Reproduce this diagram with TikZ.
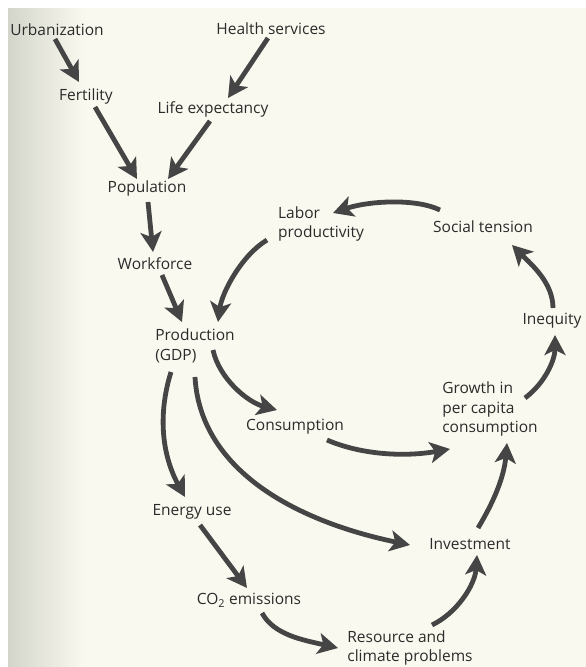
\documentclass[tikz,border=0pt]{standalone}
\usepackage{fontspec}
\setmainfont{Open Sans}
\usetikzlibrary{arrows.meta,calc}
\definecolor{paper}{HTML}{FAF9EF}
\definecolor{shadow}{HTML}{D3D5CB}
\definecolor{ink}{HTML}{2B2B2B}
\definecolor{arrowgrey}{HTML}{454545}
\tikzset{
  lbl/.style={text=ink, font=\fontsize{15.5}{19.5}\selectfont, inner sep=0pt, align=left},
  arr/.style={draw=arrowgrey, line width=4.8pt,
    -{Stealth[length=20pt,width=21pt,inset=5pt]}}
}
\begin{document}
\begin{tikzpicture}[x=1pt,y=-1pt]
\useasboundingbox (0,0) rectangle (586,667);
% paper and the shadow along the binding
\fill[white] (0,0) rectangle (586,667);
\fill[paper] (8,8) rectangle (586,667);
\shade[left color=shadow, right color=paper] (8,8) rectangle (85,667);

% labels
\node[lbl] (urb)    at (57,30)   {Urbanization};
\node[lbl] (health) at (271,29)  {Health services};
\node[lbl] (fert)   at (86,96)   {Fertility};
\node[lbl] (life)   at (213,109) {Life expectancy};
\node[lbl] (pop)    at (147,188) {Population};
\node[lbl] (work)   at (155,264) {Workforce};
\node[lbl] (prod)   at (195,346) {Production\\(GDP)};
\node[lbl] (labor)  at (321,224) {Labor\\productivity};
\node[lbl] (social) at (483,227) {Social tension};
\node[lbl] (ineq)   at (552,321) {Inequity};
\node[lbl] (growth) at (490,409) {Growth in\\per capita\\consumption};
\node[lbl] (cons)   at (295,427) {Consumption};
\node[lbl] (energy) at (192,512) {Energy use};
\node[lbl] (invest) at (470,544) {Investment};
\node[lbl] (co2)    at (249,600) {CO\textsubscript{2} emissions};
\node[lbl] (res)    at (410,648) {Resource and\\climate problems};

% straight links
\draw[arr] ($(urb)+(-2,9)$)    -- ($(fert)+(-7,-14)$);
\draw[arr] ($(health)+(-3,9)$) -- ($(life)+(15,-11)$);
\draw[arr] ($(fert)+(9,11)$)   -- ($(pop)+(-10,-9)$);
\draw[arr] ($(life)+(-3,12)$)  -- ($(pop)+(21,-9)$);
\draw[arr] ($(pop)+(1,14)$)    -- ($(work)+(-2,-12)$);
\draw[arr] ($(work)+(7,11)$)   -- ($(prod)+(-13,-24)$);
\draw[arr] ($(energy)+(8,13)$) -- ($(co2)+(-2,-12)$);

% curved links
\draw[arr] ($(labor)+(-54,16)$) .. controls +(-25,15) and +(4,-30) .. ($(prod)+(23,-24)$);
\draw[arr] ($(prod)+(18,4)$)    .. controls +(6,28) and +(-30,-8) .. ($(cons)+(-18,-17)$);
\draw[arr] ($(prod)+(-24,26)$)  .. controls +(-14,45) and +(-22,-40) .. ($(energy)+(-7,-15)$);
\draw[arr] ($(prod)+(0,31)$)    .. controls +(5,90) and +(-120,-25) .. ($(invest)+(-60,1)$);
\draw[arr] ($(cons)+(32,13)$)   .. controls +(35,15) and +(-45,8) .. ($(growth)+(-40,40)$);
\draw[arr] ($(co2)+(13,13)$)    .. controls +(12,22) and +(-35,-8) .. ($(res)+(-72,0)$);
\draw[arr] ($(res)+(22,-23)$)   .. controls +(25,-12) and +(-2,30) .. ($(invest)+(7,11)$);
\draw[arr] ($(invest)+(8,-16)$) .. controls +(15,-25) and +(-3,35) .. ($(growth)+(17,34)$);
\draw[arr] ($(growth)+(35,-11)$) .. controls +(20,-15) and +(0,25) .. ($(ineq)+(3,14)$);
\draw[arr] ($(ineq)+(1,-13)$)   .. controls +(0,-25) and +(20,20) .. ($(social)+(29,18)$);
\draw[arr] ($(social)+(-43,-17)$) .. controls +(-25,-12) and +(35,-12) .. ($(labor)+(12,-11)$);
\end{tikzpicture}
\end{document}
